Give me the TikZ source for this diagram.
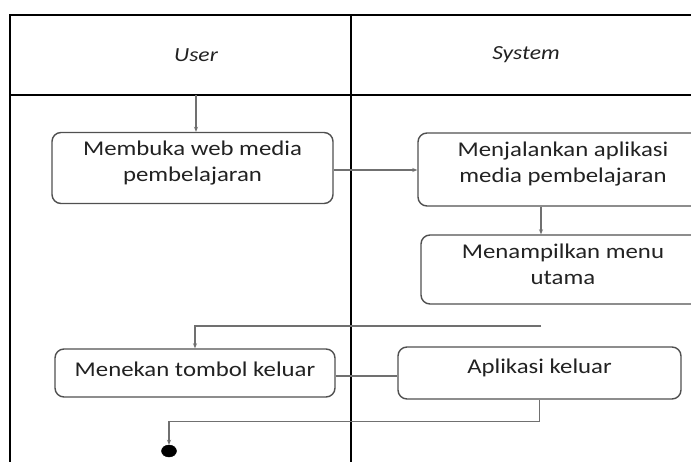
\documentclass[tikz,border=0pt]{standalone}
\usepackage{fontspec}
\setmainfont{Carlito}
\usetikzlibrary{arrows.meta,shapes.geometric}
\definecolor{txt}{HTML}{222222}
\definecolor{bord}{HTML}{505050}
\definecolor{conn}{HTML}{707070}
\tikzset{
  frame/.style={line width=1.8pt,draw=black},
  abox/.style={draw=bord,line width=1.4pt,rounded corners=9pt,inner sep=0pt},
  atext/.style={text=txt,align=center,inner sep=0pt,font=\fontsize{21}{26}\selectfont\addfontfeature{FakeStretch=1.18}},
  htext/.style={text=txt,inner sep=0pt,font=\fontsize{20}{24}\selectfont\itshape\addfontfeature{FakeStretch=1.18}},
  conline/.style={draw=conn,line width=1.1pt},
  arr/.style={conline,-{Stealth[length=5pt,width=4pt]}},
  endnode/.style={ellipse,fill=black,draw=black,minimum width=15pt,minimum height=12pt,inner sep=0pt}
}
\begin{document}
\begin{tikzpicture}[x=1pt,y=-1pt]
\useasboundingbox (0,0) rectangle (691,461);
\clip (0,0) rectangle (691,461);
\fill[white] (0,0) rectangle (691,461);
% swimlane frame
\draw[frame] (10,470) -- (10,15) -- (700,15);
\draw[frame] (10,95) -- (700,95);
\draw[frame] (351,15) -- (351,470);
\node[htext] (hu) at (196,55) {User};
\node[htext] (hs) at (526,55) {System};
% boxes
\node[abox,minimum width=281pt,minimum height=71pt] (b1) at (192.5,168) {};
\node[atext] (t1) at ([yshift=5pt]b1.center) {Membuka web media\\pembelajaran};
\node[abox,minimum width=290pt,minimum height=73pt] (b2) at (563,169.5) {};
\node[atext] (t2) at ([yshift=5pt]b2.center) {Menjalankan aplikasi\\media pembelajaran};
\node[abox,minimum width=284pt,minimum height=69pt] (b3) at (563,269.5) {};
\node[atext] (t3) at ([yshift=5pt]b3.center) {Menampilkan menu\\utama};
\node[abox,minimum width=280pt,minimum height=48pt] (b4) at (195,373) {};
\node[atext] (t4) at ([yshift=4pt]b4.center) {Menekan tombol keluar};
\node[abox,minimum width=283pt,minimum height=52pt] (b5) at (539.5,373) {};
\node[atext] (t5) at ([yshift=5pt]b5.center) {Aplikasi keluar};
\node[endnode] (e) at (169,451) {};
% connectors
\coordinate (s) at (196,95);
\coordinate (k) at (541,0);
\coordinate (f) at (541,326);
\draw[arr] (s) -- (s |- b1.north);
\draw[arr] (b1.east |- 0,170) -- (b2.west |- 0,170);
\draw[arr] (k |- b2.south) -- (k |- b3.north);
\draw[arr] (f) -| (b4.north);
\draw[conline] (b4.east |- 0,376) -- (b5.west |- 0,376);
\draw[arr] (b5.south) -- ++(0,22) -| (e.north);
\end{tikzpicture}
\end{document}
